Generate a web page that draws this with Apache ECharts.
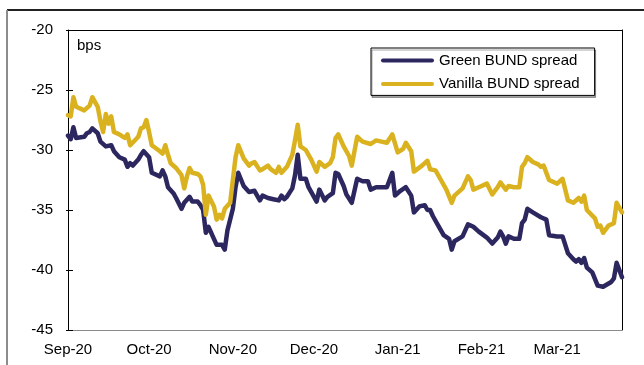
<!DOCTYPE html>
<html>
<head>
<meta charset="utf-8">
<script src="https://cdn.jsdelivr.net/npm/echarts@6/dist/echarts.min.js"></script>
<style>
  html, body { margin: 0; padding: 0; background: #fff; }
  #chart { width: 644px; height: 365px; }
</style>
</head>
<body>
<div id="chart"></div>
<script>
// Day offsets are counted from 1 September 2020.
const monthStarts = [0, 30, 61, 91, 122, 153, 181];
const monthLabels = ['Sep-20', 'Oct-20', 'Nov-20', 'Dec-20', 'Jan-21', 'Feb-21', 'Mar-21'];
const yTicks = [-45, -40, -35, -30, -25, -20];

const greenDays = [0,1,2,3,6,7,8,9,11,12,14,16,17,19,21,22,23,24,26,27,28,30,31,34,35,36,37,39,40,42,43,45,46,48,49,50,51,52,54,55,57,58,59,61,62,63,65,67,69,71,72,74,76,78,79,80,81,83,84,85,86,88,89,92,93,95,96,98,99,100,102,103,105,107,109,111,112,114,116,118,120,121,123,125,127,128,130,132,133,134,135,137,139,141,142,143,146,148,150,152,155,157,159,160,161,162,163,165,167,168,169,170,172,175,177,178,181,183,185,187,188,189,190,191,192,194,196,198,201,202,203,205];
const greenSpread = [-28.8,-29.1,-28.1,-29.0,-28.9,-28.6,-28.5,-28.2,-28.6,-29.3,-29.7,-29.6,-30.1,-30.6,-30.8,-31.4,-31.1,-31.3,-30.8,-30.4,-30.1,-30.6,-31.9,-32.2,-31.7,-32.2,-33.1,-33.6,-34.0,-34.9,-34.4,-33.9,-34.3,-34.3,-34.6,-35.0,-36.9,-36.4,-37.4,-37.9,-37.9,-38.3,-36.7,-34.9,-33.1,-31.9,-33.0,-33.5,-33.4,-34.2,-33.8,-34.0,-34.1,-34.2,-33.8,-34.1,-33.9,-33.2,-32.1,-30.4,-32.4,-32.4,-33.1,-34.3,-33.3,-34.2,-33.9,-33.6,-31.9,-32.0,-33.0,-33.7,-34.4,-32.4,-32.6,-32.6,-33.3,-33.1,-33.1,-33.1,-31.9,-33.8,-33.4,-33.1,-33.8,-35.2,-34.7,-34.6,-35.0,-35.0,-35.5,-36.3,-37.1,-37.4,-38.3,-37.6,-37.2,-36.2,-36.4,-36.8,-37.3,-37.8,-37.3,-36.8,-37.2,-37.8,-37.2,-37.4,-37.4,-36.1,-35.8,-34.9,-35.2,-35.6,-35.8,-37.1,-37.2,-37.2,-38.6,-39.1,-39.3,-39.1,-39.4,-39.0,-39.8,-40.2,-41.3,-41.4,-41.0,-40.7,-39.4,-40.6];

const vanillaDays = [0,1,2,3,6,8,9,11,12,13,14,15,16,17,19,21,22,23,26,27,28,29,30,31,34,35,36,37,38,40,42,43,44,45,46,48,49,50,51,52,54,55,56,57,58,60,61,62,63,65,67,68,69,71,72,74,75,77,78,79,81,83,84,85,86,88,89,90,92,93,95,97,98,99,100,102,104,105,107,109,112,114,116,118,120,122,124,125,127,128,131,133,134,136,138,140,142,143,146,148,149,150,152,155,157,159,160,162,163,165,167,168,169,170,172,174,175,176,178,181,183,185,187,189,190,191,192,195,196,197,198,200,202,203,205];
const vanillaSpread = [-27.1,-27.2,-25.6,-26.4,-26.7,-26.3,-25.6,-26.4,-27.6,-28.5,-27.0,-27.8,-27.2,-28.5,-28.7,-29.0,-28.7,-29.6,-28.9,-28.2,-28.1,-27.5,-28.5,-29.6,-30.1,-30.3,-29.6,-30.4,-31.1,-31.5,-32.1,-33.2,-32.2,-31.5,-31.9,-32.0,-32.2,-32.9,-35.4,-33.8,-34.7,-35.8,-35.4,-35.7,-34.9,-34.4,-32.5,-30.6,-29.6,-30.7,-31.3,-31.1,-31.0,-31.7,-31.6,-31.3,-31.6,-31.9,-31.4,-31.9,-31.4,-30.4,-29.2,-27.9,-29.7,-30.0,-30.4,-30.8,-31.8,-31.0,-31.4,-31.1,-30.6,-29.0,-28.7,-29.7,-30.5,-31.3,-28.9,-29.3,-29.5,-29.2,-29.3,-29.4,-28.7,-30.2,-29.9,-29.4,-30.1,-31.8,-31.3,-30.9,-31.6,-31.7,-32.5,-33.3,-34.4,-33.8,-33.2,-32.2,-32.5,-33.3,-33.1,-32.8,-33.7,-33.1,-32.7,-33.3,-33.0,-33.1,-33.1,-31.4,-31.1,-30.6,-31.0,-31.2,-31.4,-31.3,-32.5,-32.8,-32.4,-34.2,-34.4,-34.0,-34.3,-33.8,-35.0,-35.7,-36.4,-36.3,-36.9,-36.3,-36.1,-34.4,-35.2];

const FONT = '"Liberation Sans", Arial, sans-serif';
const GREEN = '#2c285f';
const VANILLA = '#dab21f';
const pairs = (xs, ys) => xs.map((x, i) => [x, ys[i]]);

const chart = echarts.init(document.getElementById('chart'), null, { renderer: 'canvas' });

const yBase = {
  type: 'value',
  min: yTicks[0],
  max: yTicks[yTicks.length - 1],
  interval: 5,
  splitLine: { show: false }
};

chart.setOption({
  animation: false,
  backgroundColor: '#fff',
  textStyle: { fontFamily: FONT },
  grid: { left: 68, right: 22, top: 30, bottom: 35 },
  legend: {
    orient: 'vertical',
    left: 371,
    top: 48,
    padding: [5, 15, 4, 10],
    icon: 'path://M2,0 L51,0 A2,2 0 0 1 51,4 L2,4 A2,2 0 0 1 2,0 Z',
    itemWidth: 53,
    itemHeight: 4,
    itemGap: 8.4,
    backgroundColor: '#fff',
    borderColor: '#000',
    borderWidth: 1,
    borderRadius: 0,
    shadowColor: 'rgba(0,0,0,0.35)',
    shadowOffsetX: 1,
    shadowOffsetY: 2,
    shadowBlur: 0,
    textStyle: { fontSize: 15, color: '#000', fontFamily: FONT },
    data: ['Green BUND spread', 'Vanilla BUND spread']
  },
  xAxis: [
    {
      type: 'value',
      min: 0,
      max: 205,
      position: 'bottom',
      splitLine: { show: false },
      axisLine: { lineStyle: { color: '#8a8a8a', width: 1 } },
      axisTick: { show: false },
      axisLabel: {
        customValues: monthStarts,
        formatter: v => monthLabels[monthStarts.indexOf(v)] || '',
        fontSize: 15,
        color: '#000',
        margin: 12,
        fontFamily: FONT
      }
    },
    {
      type: 'value',
      min: 0,
      max: 205,
      position: 'top',
      splitLine: { show: false },
      axisLine: { lineStyle: { color: '#000', width: 1 } },
      axisTick: { show: false },
      axisLabel: { show: false }
    }
  ],
  yAxis: [
    Object.assign({}, yBase, {
      position: 'left',
      axisLine: { show: true, lineStyle: { color: '#000', width: 1 } },
      axisTick: { show: true, inside: true, length: 5, lineStyle: { color: '#000' } },
      axisLabel: { fontSize: 15, color: '#000', margin: 15, fontFamily: FONT }
    }),
    Object.assign({}, yBase, {
      position: 'left',
      axisLine: { show: false },
      axisTick: { show: true, inside: false, length: 2, lineStyle: { color: '#000' } },
      axisLabel: { show: false }
    }),
    Object.assign({}, yBase, {
      position: 'right',
      axisLine: { show: true, lineStyle: { color: '#000', width: 1 } },
      axisTick: { show: false },
      axisLabel: { show: false }
    })
  ],
  graphic: [
    { type: 'line', shape: { x1: 7, y1: 10, x2: 644, y2: 10 }, style: { stroke: '#222', lineWidth: 2 }, silent: true },
    { type: 'line', shape: { x1: 7, y1: 10, x2: 7, y2: 365 }, style: { stroke: '#8c8c8c', lineWidth: 2 }, silent: true },
    { type: 'text', left: 77, top: 38, style: { text: 'bps', font: '15px ' + FONT, fill: '#000' }, silent: true }
  ],
  series: [
    {
      name: 'Green BUND spread',
      type: 'line',
      xAxisIndex: 0,
      yAxisIndex: 0,
      showSymbol: false,
      symbol: 'none',
      data: pairs(greenDays, greenSpread),
      itemStyle: { color: GREEN },
      lineStyle: { color: GREEN, width: 4.5, join: 'round', cap: 'round' }
    },
    {
      name: 'Vanilla BUND spread',
      type: 'line',
      xAxisIndex: 0,
      yAxisIndex: 0,
      showSymbol: false,
      symbol: 'none',
      data: pairs(vanillaDays, vanillaSpread),
      itemStyle: { color: VANILLA },
      lineStyle: { color: VANILLA, width: 4.5, join: 'round', cap: 'round' }
    }
  ]
});
</script>
</body>
</html>
